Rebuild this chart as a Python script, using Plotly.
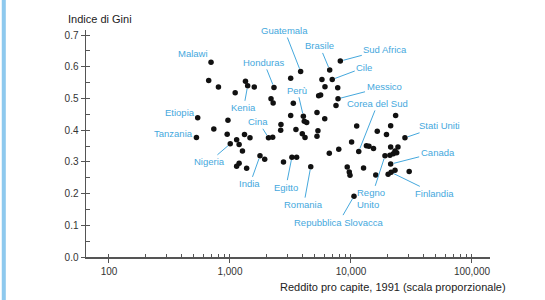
import math
import plotly.graph_objects as go

# ---- data ----
country = ["Malawi", "", "", "", "", "Kenia", "", "Honduras", "", "",
           "Etiopia", "", "", "Tanzania", "", "", "", "", "Nigeria", "",
           "", "", "", "", "India", "", "Cina", "", "", "",
           "", "Egitto", "", "Romania", "Guatemala", "", "Brasile", "Sud Africa", "", "Cile",
           "", "", "", "", "Messico", "", "", "", "", "Perù",
           "", "", "", "", "", "", "", "", "", "",
           "", "", "", "Stati Uniti", "", "", "", "Corea del Sud", "", "",
           "", "", "", "Regno\nUnito", "", "", "", "", "Canada", "",
           "", "", "", "", "", "Finlandia", "", "", "Repubblica Slovacca"]

income = [697, 667, 803, 1104, 1343, 1400, 1588, 2310, 2183, 2274,
          541, 962, 735, 528, 948, 1135, 1318, 1463, 1005, 1190,
          1268, 1190, 1135, 1373, 1770, 1936, 2081, 2254, 2638, 2624,
          2768, 3250, 3554, 4652, 3837, 3175, 6669, 8165, 5754, 7000,
          6095, 7770, 5405, 5614, 7815, 7520, 3337, 5236, 3175, 4040,
          4113, 4304, 6070, 3508, 3959, 4170, 5333, 5236, 23400, 11150,
          21280, 16490, 19650, 27930, 10120, 7925, 6620, 11590, 13420, 14090,
          15350, 21280, 24450, 19100, 20990, 22370, 23870, 23110, 21280, 12700,
          9310, 9680, 9815, 16030, 20280, 21480, 23110, 30270, 10590]

gini = [0.614, 0.557, 0.536, 0.518, 0.554, 0.540, 0.536, 0.535, 0.499, 0.486,
        0.439, 0.431, 0.404, 0.377, 0.387, 0.370, 0.386, 0.376, 0.357, 0.355,
        0.334, 0.296, 0.286, 0.280, 0.319, 0.308, 0.376, 0.378, 0.418, 0.400,
        0.300, 0.315, 0.315, 0.285, 0.585, 0.564, 0.590, 0.618, 0.560, 0.560,
        0.537, 0.534, 0.509, 0.511, 0.499, 0.478, 0.485, 0.456, 0.446, 0.444,
        0.428, 0.424, 0.436, 0.402, 0.389, 0.377, 0.398, 0.381, 0.446, 0.413,
        0.414, 0.397, 0.386, 0.376, 0.363, 0.340, 0.327, 0.333, 0.351, 0.349,
        0.342, 0.347, 0.347, 0.319, 0.321, 0.326, 0.329, 0.334, 0.293, 0.281,
        0.284, 0.268, 0.258, 0.259, 0.261, 0.267, 0.274, 0.270, 0.192]

x_tick_vals = [100, 1000, 10000, 100000]
x_tick_text = ["100", "1,000", "10,000", "100,000"]
y_tick_vals = [0.0, 0.1, 0.2, 0.3, 0.4, 0.5, 0.6, 0.7]
y_tick_text = ["0.0", "0.1", "0.2", "0.3", "0.4", "0.5", "0.6", "0.7"]
x_minor_vals = [m * d for d in (100, 1000, 10000) for m in range(1, 10)] + [100000]
y_minor_vals = [i * 0.05 for i in range(15)]

x_title = "Reddito pro capite, 1991 (scala proporzionale)"
y_title = "Indice di Gini"

# ---- label placement (pixel offsets of text from point; line shown?) ----
label_pos = {
    "Malawi": (-18, -9, False),
    "Honduras": (-10, -25, True),
    "Guatemala": (-16, -41, True),
    "Brasile": (-10, -24, True),
    "Sud Africa": (45, -12, True),
    "Cile": (32, -12, True),
    "Messico": (46, -12, True),
    "Corea del Sud": (19, -48, True),
    "Stati Uniti": (35, -12, True),
    "Perù": (-6, -26, True),
    "Kenia": (-4, 22, True),
    "Cina": (-10, -16, True),
    "Etiopia": (-18, -5, False),
    "Tanzania": (-23, -4, False),
    "Nigeria": (-21, 18, True),
    "India": (-10, 28, True),
    "Egitto": (-6, 30, True),
    "Romania": (-7, 38, True),
    "Repubblica Slovacca": (-15, 26, True),
    "Regno\nUnito": (-14, 43, True),
    "Canada": (47, -12, True),
    "Finlandia": (43, 21, True),
}

BLUE = "#45a8dd"
AXIS = "#555555"
FONT = "Liberation Sans, Arial, sans-serif"

fig = go.Figure()
fig.add_trace(go.Scatter(x=income, y=gini, mode="markers",
                         marker=dict(color="#111111", size=5.5),
                         hoverinfo="skip", showlegend=False))
# invisible trace to carry the overlay axes (inside ticks)
fig.add_trace(go.Scatter(x=income, y=gini, mode="markers", xaxis="x2", yaxis="y2",
                         marker=dict(opacity=0), hoverinfo="skip", showlegend=False))

for name, xv, yv in zip(country, income, gini):
    if not name:
        continue
    ax, ay, line = label_pos[name]
    fig.add_annotation(x=math.log10(xv), y=yv, xref="x", yref="y",
                       text=name.replace("\n", "<br>"), showarrow=True,
                       ax=ax, ay=ay, axref="pixel", ayref="pixel",
                       arrowhead=0, arrowwidth=1, standoff=3,
                       arrowcolor=BLUE if line else "rgba(0,0,0,0)",
                       font=dict(family=FONT, size=9.5, color=BLUE),
                       align="left" if "\n" in name else "center")

xr = [1.81, 5.149]
yr = [0, 0.716]
fig.update_layout(
    width=545, height=300,
    margin=dict(l=86, r=55, t=30, b=43),
    paper_bgcolor="white", plot_bgcolor="white",
    font=dict(family=FONT, size=10, color="#333333"),
    xaxis=dict(type="log", range=xr, showgrid=False, zeroline=False,
               showline=True, linecolor=AXIS, linewidth=1.5,
               ticks="outside", ticklen=4, tickcolor=AXIS, tickwidth=1,
               tickvals=x_tick_vals, ticktext=x_tick_text,
               tickfont=dict(size=10, color="#333333")),
    yaxis=dict(range=yr, showgrid=False, zeroline=False,
               showline=True, linecolor=AXIS, linewidth=1.5,
               ticks="outside", ticklen=4, tickcolor=AXIS, tickwidth=1,
               tickvals=y_tick_vals, ticktext=y_tick_text,
               tickfont=dict(size=10, color="#333333")),
    xaxis2=dict(type="log", range=xr, overlaying="x", anchor="y2", side="bottom",
                showgrid=False, zeroline=False, showline=False,
                ticks="inside", ticklen=3.5, tickcolor=AXIS, tickwidth=1,
                tickvals=x_minor_vals, showticklabels=False),
    yaxis2=dict(range=yr, overlaying="y", anchor="x2", side="left",
                showgrid=False, zeroline=False, showline=False,
                ticks="inside", ticklen=3.5, tickcolor=AXIS, tickwidth=1,
                tickvals=y_minor_vals, showticklabels=False),
)

fig.add_annotation(text=x_title, xref="paper", yref="paper", x=1.045, y=-0.095,
                   xanchor="right", yanchor="top", showarrow=False,
                   font=dict(family=FONT, size=11, color="#222222"))
fig.add_annotation(text=y_title, xref="paper", yref="paper", x=-0.05, y=1.015,
                   xanchor="left", yanchor="bottom", showarrow=False,
                   font=dict(family=FONT, size=11, color="#222222"))

# light blue frame line at the left edge of the slide (pixel ~2-6)
fig.add_shape(type="rect", xref="paper", yref="paper", x0=-0.2085, x1=-0.1985,
              y0=-0.2, y1=1.15, fillcolor="#8ec9ee", line=dict(width=0),
              layer="above")

fig.write_html("out.html",
               config={"displayModeBar": False, "staticPlot": True},
               post_script="document.body.style.margin='0';document.body.style.overflow='hidden';")
